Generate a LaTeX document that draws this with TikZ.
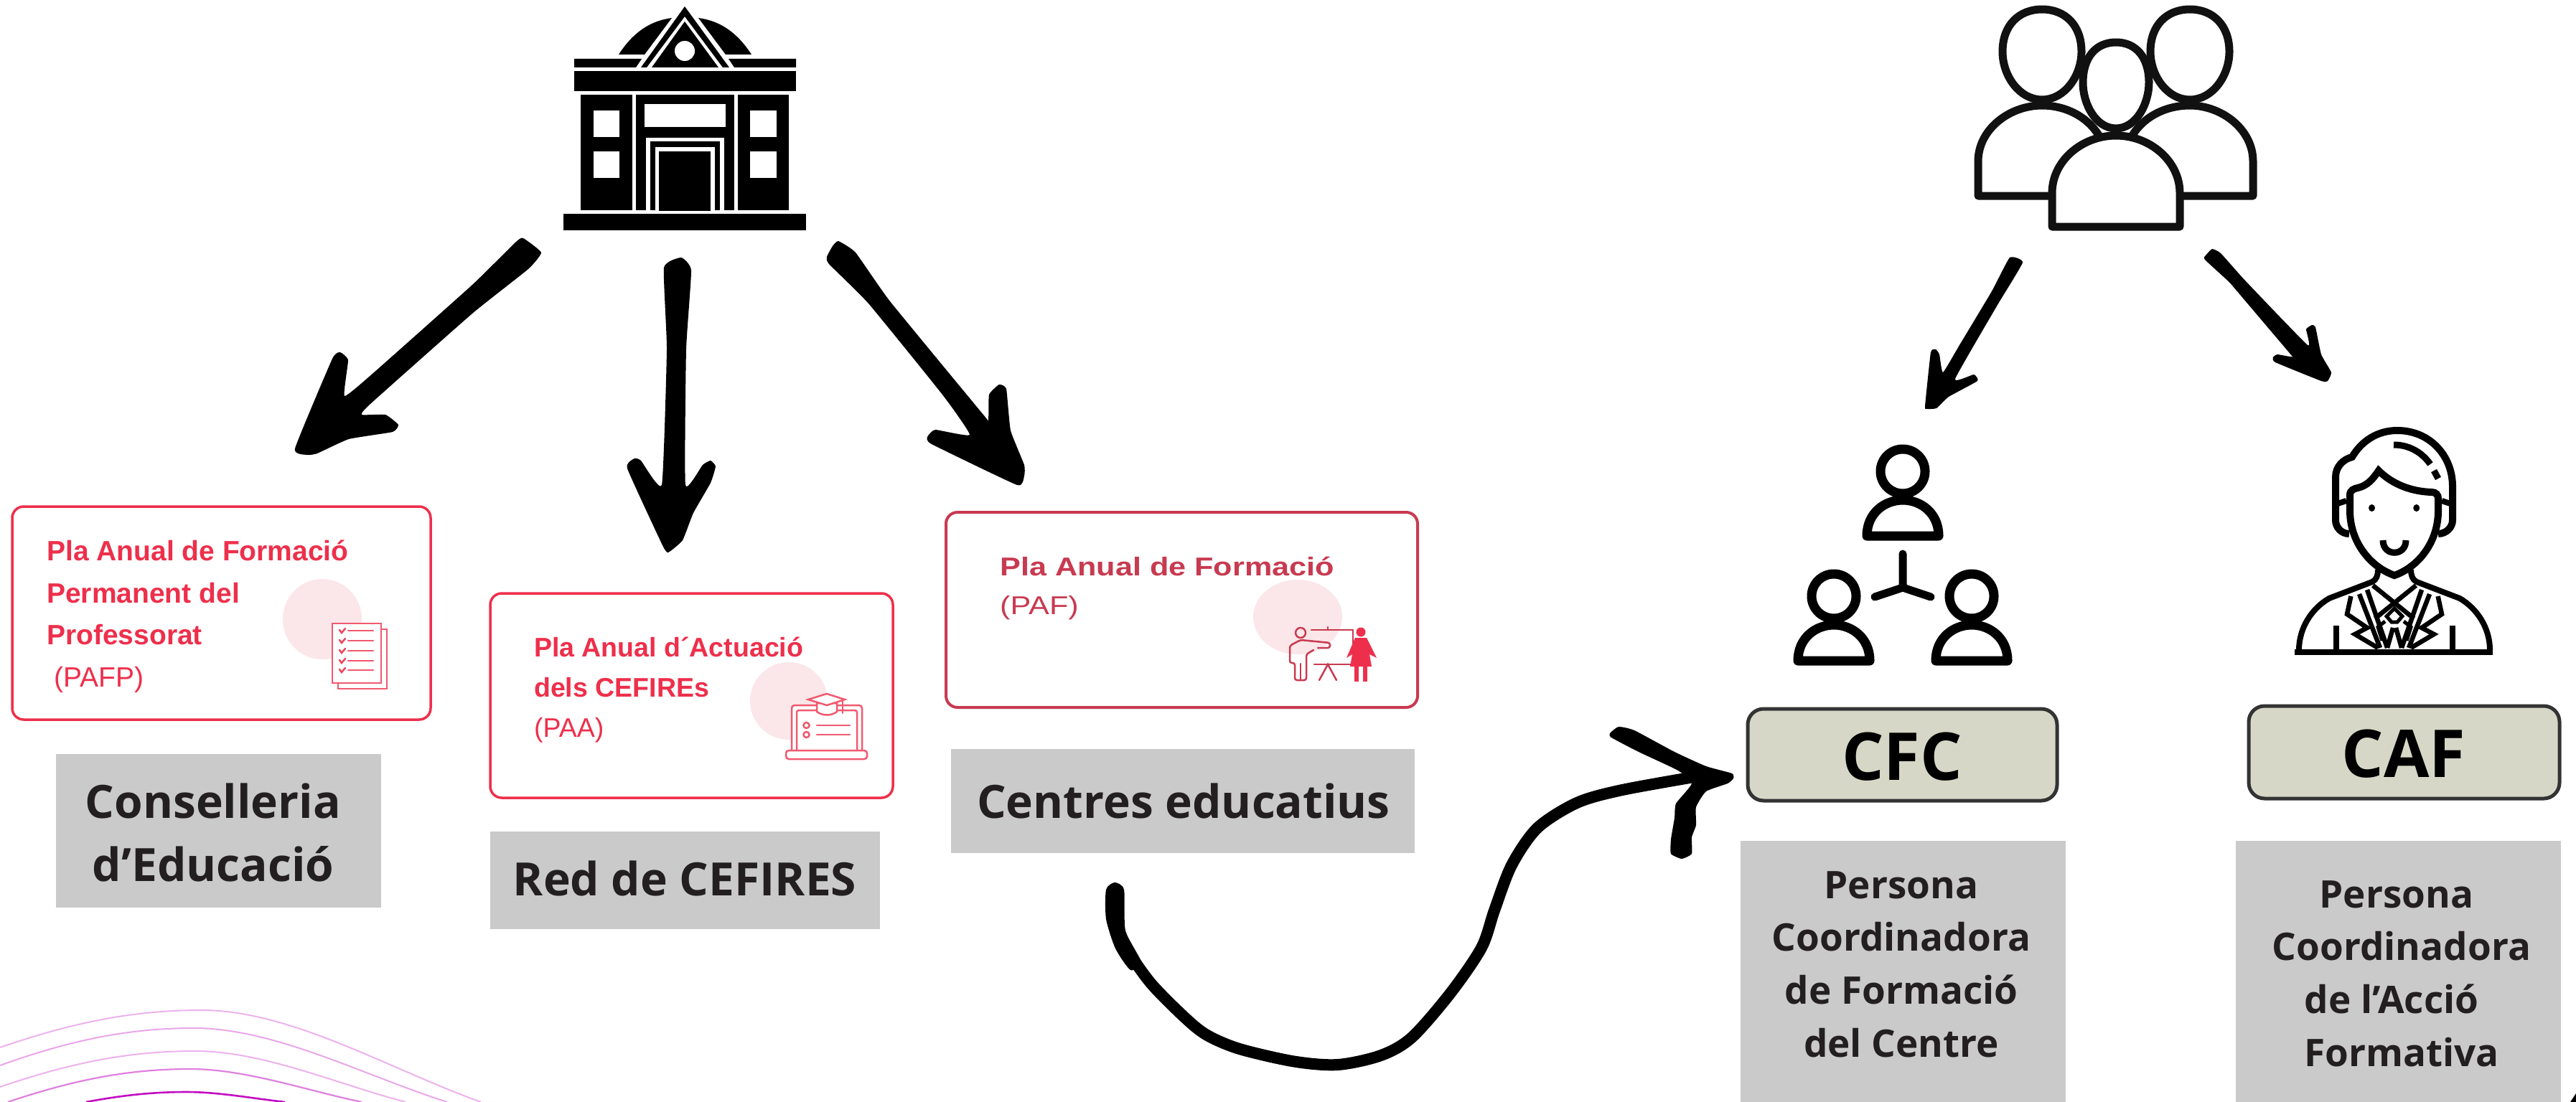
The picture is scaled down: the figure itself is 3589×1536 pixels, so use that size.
\documentclass[tikz,border=0pt]{standalone}
\usepackage{graphicx}
\usepackage{fontspec}
\setmainfont{Open Sans}
\newfontfamily\cardfont{Liberation Sans}
\newcommand{\pxfont}[2]{\fontsize{#1}{#2}\selectfont}
\definecolor{cardred}{HTML}{EE2F4B}
\definecolor{carddull}{HTML}{C83A50}
\definecolor{cardpink}{HTML}{FBE6E9}
\definecolor{labelgrey}{HTML}{CACACA}
\definecolor{labelink}{HTML}{231F20}
\definecolor{rolefill}{HTML}{D6D7C6}
\definecolor{roleline}{HTML}{333333}
\definecolor{iconink}{HTML}{111111}
\tikzset{
	brush/.style={draw=black,line cap=round,line join=round},
	brushhead/.style={fill=black,draw=none},
	redcard/.style={draw=cardred,line width=3.5pt,rounded corners=16pt,fill=white},
	dullcard/.style={draw=carddull,line width=4pt,rounded corners=16pt,fill=white},
	greylabel/.style={fill=labelgrey,draw=none},
	rolebox/.style={draw=roleline,line width=5pt,rounded corners=22pt,fill=rolefill},
	cardtext/.style={inner sep=0pt,align=left,anchor=north west,text=cardred},
	labeltext/.style={inner sep=0pt,align=center,text=labelink},
	roletext/.style={inner sep=0pt,anchor=base,text=black,font=\bfseries\pxfont{92}{92}},
	outline/.style={draw=iconink,fill=white,line width=11pt,line join=round},
	member/.style={draw=black,fill=white,line width=13pt,line join=round},
	suit/.style={draw=black,line width=6.5pt,line join=miter},
	cardicon/.style={draw=#1,line width=2.5pt,line cap=round},
}

\begin{document}
\begin{tikzpicture}[x=1pt,y=1pt,yscale=-1,xscale=1]
	\useasboundingbox (0,0) rectangle (3589,1536);

	%Arcs, bottom left
	\foreach \ya/\xb/\xc/\yc/\xd/\pct/\lw in {1460/0/281/1408/670/30/2,1485/0/270/1433/623/35/2,1515/0/272/1465/565/30/2,1536/11/265/1490/504/50/2.2,1536/120/260/1522/397/95/2.6}
		\draw[color=violet!50!magenta!\pct,line width=\lw pt] (\xb,\ya) .. controls ({\xb+(\xc-\xb)*.35},{\yc+(\ya-\yc)*.35}) and ({\xc-(\xc-\xb)*.35},\yc) .. (\xc,\yc) .. controls ({\xc+(\xd-\xc)*.32},\yc) and ({\xd-(\xd-\xc)*.33},{1536-(1536-\yc)*.36}) .. (\xd,1536);

	%Building
	\fill (785,298) rectangle (1123,321);
	\fill (809,132) rectangle (881,293);
	\fill (886,132) rectangle (1023,293);
	\fill (1028,132) rectangle (1099,293);
	\fill (800,99) rectangle (1109,127);
	\fill (800,82) -- (894,82) -- (886,94) -- (800,94) -- cycle;
	\fill (1109,82) -- (1015,82) -- (1023,94) -- (1109,94) -- cycle;
	\fill (862,76) .. controls (882,45) and (906,29) .. (936,25) -- (898,76) -- cycle;
	\fill (1047,76) .. controls (1027,45) and (1003,29) .. (973,25) -- (1011,76) -- cycle;
	\fill (954,9) -- (1016,94) -- (1007,94) -- (954,23) -- (901,94) -- (893,94) -- cycle;
	\fill (954,30) -- (1001,94) -- (908,94) -- cycle;
	\fill[white] (954,71) circle (14);
	\foreach \wy in {154,211} {
		\fill[white] (827,\wy) rectangle +(36,37);
		\fill[white] (1045,\wy) rectangle +(37,37);
	}
	\fill[white] (898,145) rectangle (1011,177);
	\fill[white] (900,293) -- (900,192) -- (1009,192) -- (1009,293) -- cycle;
	\fill (906,293) -- (906,197) -- (1003,197) -- (1003,293) -- cycle;
	\fill[white] (913,293) -- (913,205) -- (996,205) -- (996,293) -- cycle;
	\fill (918,294) -- (918,211) -- (990,211) -- (990,294) -- cycle;

	%People group
	\draw[outline] (2756,273) -- (2756,225) .. controls (2756,180) and (2800,147) .. (2845,147) .. controls (2880,147) and (2915,165) .. (2930,200) -- (2930,273) -- cycle;
	\draw[outline] (3139,273) -- (3139,225) .. controls (3139,180) and (3095,147) .. (3051,147) .. controls (3015,147) and (2980,165) .. (2965,200) -- (2965,273) -- cycle;
	\foreach \hx in {2845,3051}
		\draw[outline] (\hx,139) .. controls ({\hx-32},139) and ({\hx-55},105) .. ({\hx-55},72) .. controls ({\hx-55},35) and ({\hx-32},13) .. (\hx,13) .. controls ({\hx+32},13) and ({\hx+55},35) .. ({\hx+55},72) .. controls ({\hx+55},105) and ({\hx+32},139) .. (\hx,139) -- cycle;
	\draw[outline] (2859,316) -- (2859,269) .. controls (2859,225) and (2900,189) .. (2948,189) .. controls (2996,189) and (3037,225) .. (3037,269) -- (3037,316) -- cycle;
	\draw[outline] (2948,179) .. controls (2920,179) and (2902,145) .. (2902,115) .. controls (2902,80) and (2920,59) .. (2948,59) .. controls (2976,59) and (2994,80) .. (2994,115) .. controls (2994,145) and (2976,179) .. (2948,179) -- cycle;

	%CFC icon
	\foreach \mx/\my in {2651/0,2555/174,2747/174} {
		\draw[member] (\mx,{657+\my}) ellipse (31 and 31);
		\draw[member] ({\mx-50},{747+\my}) .. controls ({\mx-50},{715+\my}) and ({\mx-25},{697+\my}) .. (\mx,{697+\my}) .. controls ({\mx+25},{697+\my}) and ({\mx+50},{715+\my}) .. ({\mx+50},{747+\my}) -- cycle;
	}
	\draw[black,line width=11pt,line cap=round,line join=round] (2651,772) -- (2651,819) -- (2612,832);
	\draw[black,line width=11pt,line cap=round] (2651,819) -- (2690,832);

	%CAF icon
	\draw[suit,line width=10pt] (3254,703) -- (3254,665) .. controls (3254,650) and (3265,640) .. (3277,637) .. controls (3290,615) and (3312,600) .. (3340,600) .. controls (3385,600) and (3417,635) .. (3417,678) -- (3417,725) .. controls (3417,735) and (3408,744) .. (3397,744);
	\draw[suit,line width=10pt] (3254,703) -- (3254,725) .. controls (3254,735) and (3262,744) .. (3273,744);
	\draw[suit,line width=8pt] (3254,703) -- (3269,698);
	\draw[suit,line width=8pt] (3417,703) -- (3402,698);
	\draw[suit,line width=10pt] (3274,690) .. controls (3274,683) and (3280,681) .. (3285,680) .. controls (3298,677) and (3306,668) .. (3314,656) .. controls (3330,672) and (3355,685) .. (3388,686) .. controls (3394,686) and (3397,690) .. (3397,695) -- (3397,712) .. controls (3397,755) and (3370,790) .. (3336,802) .. controls (3302,790) and (3274,755) .. (3274,712) -- cycle;
	\fill (3304.5,708) ellipse (4.5 and 5);
	\fill (3366.7,708) ellipse (4.5 and 5);
	\draw[suit,line width=9pt] (3320,753) .. controls (3320,776) and (3352,776) .. (3352,753);
	\draw[suit,line width=9pt] (3335,620) .. controls (3356,620) and (3374,630) .. (3386,647);
	\draw[suit,line width=9pt] (3391,656) -- (3397,667);
	\draw[suit,line width=8pt] (3197,909) -- (3473,909);
	\begin{scope}[shift={(3336,0)}]
		\foreach \sgn in {1,-1} {
			\begin{scope}[xscale=\sgn]
				\draw[suit,line width=8pt] (23,794) .. controls (23,802) and (25,808) .. (31,811) -- (91,834) .. controls (115,848) and (133,875) .. (133,906);
				\draw[suit] (60.6,831) -- (66,856) -- (38,875) -- (55,884) -- (23,903);
				\draw[suit] (38,822) -- (10,903);
				\draw[suit] (49,828) -- (20,903);
				\draw[suit] (-30,816) -- (27,862);
				\draw[suit] (-2,875) -- (-10,903);
				\draw[suit,line width=5pt] (13,866) -- (23,874) -- (17,893);
				\draw[suit,line width=8pt] (81,872) -- (81,906);
			\end{scope}
		}
		\draw[suit,line width=5pt] (-11,859) -- (-4,867) -- (4,867) -- (11,859) -- (0,848) -- cycle;
	\end{scope}

	%Cards
	\path[redcard] (17,706) rectangle (600,1003);
	\path[redcard] (683,827) rectangle (1244,1112);
	\path[dullcard] (1318,714) rectangle (1975,986);
	\fill[cardpink] (449,863) ellipse (55 and 56);
	\fill[cardpink] (1099,977) ellipse (54 and 54);
	\fill[cardpink] (1808,860) ellipse (62 and 52);

	%Card icons
	\draw[cardicon=cardred!80,fill=white] (471,877) rectangle (539,960);
	\draw[cardicon=cardred!80,fill=white] (463,869) rectangle (531,952);
	\foreach \ly in {879,893,907,921,934} {
		\draw[cardicon=cardred!80] (485,\ly) -- (520,\ly);
		\draw[cardicon=cardred!90] (473,{\ly-1}) -- (476,{\ly+3}) -- (481,{\ly-3});
	}
	\draw[cardicon=cardred!80,rounded corners=4pt,fill=white] (1103,1046) -- (1103,983) -- (1201,983) -- (1201,1046);
	\draw[cardicon=cardred!80,rounded corners=3pt] (1110,1046) -- (1110,990) -- (1194,990) -- (1194,1046);
	\draw[cardicon=cardred!80,rounded corners=4pt,fill=white] (1095,1046) rectangle (1208,1058);
	\foreach \ly in {1011,1024} {
		\draw[cardicon=cardred!80] (1138,\ly) -- (1184,\ly);
		\draw[cardicon=cardred!80] (1123.5,\ly) circle (4);
	}
	\draw[cardicon=cardred!80,fill=white] (1138,980) -- (1138,992) .. controls (1146,998) and (1158,998) .. (1166,992) -- (1166,980) -- cycle;
	\draw[cardicon=cardred!80,fill=white] (1152,967) -- (1177,975) -- (1152,983) -- (1126,975) -- cycle;
	\draw[cardicon=cardred!80] (1174,976) -- (1174,994);
	%Teacher
	\draw[cardicon=carddull] (1812,882) circle (7);
	\draw[cardicon=carddull] (1827,878) -- (1885,878) -- (1885,926) -- (1831,926);
	\draw[cardicon=carddull,rounded corners=3pt] (1836,903) -- (1853,903) -- (1853,896) -- (1812,892) -- (1797,900) -- (1797,924) -- (1804,924) -- (1804,948) -- (1820,948) -- (1820,912) -- (1830,906);
	\draw[cardicon=carddull] (1812,925) -- (1812,948);
	\draw[cardicon=carddull] (1838,948) -- (1850,926) -- (1862,948);
	\draw[cardicon=carddull] (1850,874) -- (1850,878);
	\fill[cardred] (1896,881) circle (6.5);
	\fill[cardred] (1888,889) -- (1904,889) -- (1918,917) -- (1908,912) -- (1911,929) -- (1881,929) -- (1884,912) -- (1876,917) -- cycle;
	\fill[cardred] (1887,929) rectangle (1893,950);
	\fill[cardred] (1899,929) rectangle (1905,950);

	%Card texts
	\node[cardtext,font=\cardfont\bfseries\pxfont{39}{58.5}] (planText) at (65,753) {Pla Anual de Formació\\ Permanent del\\ Professorat\\ \mdseries\hspace*{10pt}(PAFP)};
	\node[cardtext,font=\cardfont\bfseries\pxfont{37.5}{56}] (actionText) at (744,888) {Pla Anual d´Actuació\\ dels CEFIREs\\ \mdseries (PAA)};
	\node[cardtext,text=carddull,font=\cardfont\bfseries\pxfont{36}{36}] (schoolText) at (1393,776) {\scalebox{1.2}[1]{Pla Anual de Formació}};
	\node[cardtext,text=carddull,font=\cardfont\pxfont{36}{36}] (schoolCode) at (1393,830) {\scalebox{1.2}[1]{(PAF)}};

	%Grey labels
	\path[greylabel] (78,1051) rectangle (531,1265);
	\path[greylabel] (683,1159) rectangle (1226,1295);
	\path[greylabel] (1325,1044) rectangle (1971,1189);
	\path[greylabel] (2425,1172) rectangle (2878,1536);
	\path[greylabel] (3115,1172) rectangle (3568,1536);
	\node[labeltext,font=\bfseries\pxfont{64}{88}] (deptLabel) at (297,1160) {Conselleria\\ d’Educació};
	\node[labeltext,font=\bfseries\pxfont{64}{88}] (netLabel) at (954,1224) {Red de CEFIRES};
	\node[labeltext,font=\bfseries\pxfont{64}{88}] (schoolLabel) at (1649,1116) {Centres educatius};
	\node[labeltext,font=\bfseries\pxfont{53}{73.7}] (cfcLabel) at (2649,1344) {Persona\\ Coordinadora\\ de Formació\\ del Centre};
	\node[labeltext,font=\bfseries\pxfont{53}{73.7}] (cafLabel) at (3346,1357) {\hspace*{-14pt}Persona\\ Coordinadora\\ \hspace*{-28pt}de l’Acció\\ Formativa};

	%Role boxes
	\path[rolebox] (2435,988) rectangle (2866,1116);
	\path[rolebox] (3133,984) rectangle (3566,1113);
	\node[roletext] (cfcName) at (2650,1087) {CFC};
	\node[roletext] (cafName) at (3349,1083) {CAF};

	%Arrow ends
	\coordinate (buildA) at (733,357);
	\coordinate (cardA) at (478,578);
	\coordinate (buildB) at (943,375);
	\coordinate (cardB) at (939,690);
	\coordinate (buildC) at (1170,353);
	\coordinate (cardC) at (1382,620);
	\coordinate (groupA) at (2806,368);
	\coordinate (iconA) at (2708,542);
	\coordinate (groupB) at (3084,358);
	\coordinate (iconB) at (3218,516);
	\coordinate (schoolFoot) at (1554,1242);
	\coordinate (cfcTip) at (2360,1083);

	%Arrows
	\draw[brush,line width=22pt] (buildA) -- (cardA);
	\draw[brush,line width=22pt] (buildB) -- (cardB);
	\draw[brush,line width=20pt] (buildC) -- (cardC);
	\draw[brush,line width=12pt] (groupA) -- (iconA);
	\draw[brush,line width=12pt] (groupB) -- (iconB);
	\fill[brushhead] plot[smooth cycle,tension=.25] coordinates {(729,332) (754,352) (736,375) (658,437) (516,563) (504,578) (537,578) (555,592) (547,602) (486,612) (442,632) (428,634) (411,625) (463,500) (474,491) (485,502) (480,552) (520,520) (658,397) (719,337)};
	\fill[brushhead] plot[smooth cycle,tension=.25] coordinates {(925,373) (949,359) (963,377) (956,487) (955,676) (979,648) (990,642) (997,650) (990,673) (966,715) (951,753) (931,770) (923,760) (874,653) (884,639) (893,642) (922,676) (929,487)};
	\fill[brushhead] plot[smooth cycle,tension=.25] coordinates {(1168,336) (1192,352) (1240,420) (1370,578) (1377,585) (1378,550) (1392,536) (1402,542) (1408,600) (1427,648) (1427,663) (1417,676) (1298,619) (1292,609) (1303,599) (1351,606) (1313,550) (1210,423) (1155,368) (1152,358) (1160,343)};
	\fill[brushhead] plot[smooth cycle,tension=.25] coordinates {(2800,359) (2818,366) (2783,425) (2724,528) (2750,522) (2755,531) (2715,553) (2698,569) (2684,570) (2682,566) (2690,491) (2697,487) (2702,494) (2707,519) (2730,481) (2775,406)};
	\fill[brushhead] plot[smooth cycle,tension=.25] coordinates {(3082,347) (3094,353) (3128,391) (3215,481) (3213,459) (3221,453) (3226,456) (3234,494) (3248,519) (3243,531) (3234,531) (3170,505) (3167,498) (3173,494) (3200,495) (3116,403) (3072,362) (3073,356)};

	%Curved arrow
	\fill[brushhead] plot[smooth cycle,tension=.4] coordinates {(1541,1240) (1553,1230) (1566,1240) (1568,1297) (1590,1341) (1575,1352) (1554,1322) (1541,1281)};
	\draw[brush,line width=16pt] plot[smooth,tension=.5] coordinates {(schoolFoot) (1555,1286) (1567,1318) (1603,1370) (1651.5,1419) (1682,1443) (1727,1462) (1803,1479.5) (1864,1484) (1924,1471) (1967,1446) (2021,1384) (2064,1321) (2082,1269) (2106,1206) (2142,1154) (2197,1119) (2258,1101.5) (cfcTip)};
	\fill[brushhead] plot[smooth cycle,tension=.3] coordinates {(2243,1022) (2255,1013) (2277,1018) (2333,1048) (2377,1068) (2413,1078) (2415,1085) (2407,1092) (2377,1103) (2363,1125) (2363,1150) (2357,1167) (2357,1190) (2343,1197) (2328,1190) (2328,1170) (2333,1140) (2335,1120) (2357,1092) (2338,1074) (2283,1048) (2245,1028)};

	%Corner mark
	\fill (3589,1524) -- (3589,1536) -- (3581,1536) -- cycle;
\end{tikzpicture}
\end{document}
